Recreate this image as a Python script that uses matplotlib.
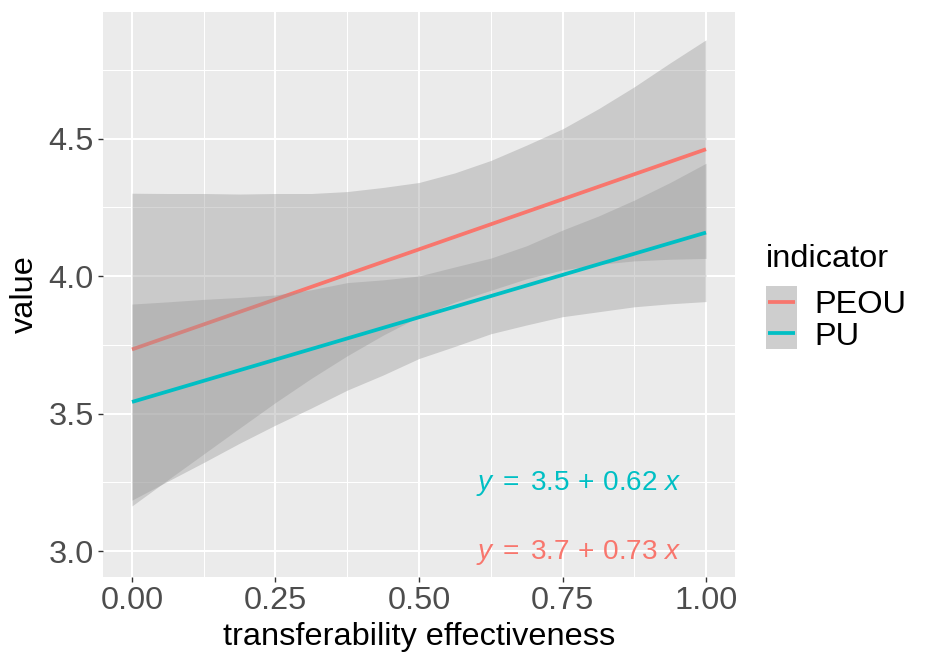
import matplotlib
matplotlib.use("Agg")
import matplotlib.pyplot as plt
from matplotlib.patches import Rectangle
from matplotlib.lines import Line2D

# ---------------- data ----------------
x_band = [0.0, 0.0625, 0.125, 0.1875, 0.25, 0.3125, 0.375, 0.4375, 0.5,
          0.5625, 0.625, 0.6875, 0.75, 0.8125, 0.875, 0.9375, 1.0]

peou_upper = [4.301, 4.300, 4.300, 4.298, 4.300, 4.300, 4.307, 4.322, 4.340,
              4.375, 4.420, 4.476, 4.535, 4.608, 4.688, 4.775, 4.859]
peou_lower = [3.164, 3.259, 3.353, 3.447, 3.540, 3.628, 3.710, 3.785, 3.852,
              3.905, 3.948, 3.990, 4.022, 4.042, 4.055, 4.061, 4.064]
pu_upper = [3.898, 3.906, 3.915, 3.922, 3.931, 3.950, 3.976, 3.986, 4.000,
            4.033, 4.065, 4.110, 4.167, 4.218, 4.276, 4.340, 4.410]
pu_lower = [3.185, 3.254, 3.322, 3.392, 3.458, 3.520, 3.585, 3.640, 3.700,
            3.744, 3.790, 3.822, 3.852, 3.870, 3.888, 3.899, 3.907]

x_line = [0.0, 1.0]
peou_line = [3.733, 4.461]
pu_line = [3.542, 4.158]

series = ["PEOU", "PU"]
colors = ["#F8766D", "#00BFC4"]
eq_labels = [r"$y\;=\;3.7\,+\,0.73\ x$",
             r"$y\;=\;3.5\,+\,0.62\ x$"]
eq_x = [0.6, 0.6]
eq_y = [2.970, 3.222]

x_ticks = [0.0, 0.25, 0.5, 0.75, 1.0]
x_ticklabels = ["0.00", "0.25", "0.50", "0.75", "1.00"]
y_ticks = [3.0, 3.5, 4.0, 4.5]
y_ticklabels = ["3.0", "3.5", "4.0", "4.5"]
x_minor = [0.125, 0.375, 0.625, 0.875]
y_minor = [3.25, 3.75, 4.25, 4.75]

# ---------------- style ----------------
FONT = "Liberation Sans"
FS = 23.4
FS_EQ = 20.2
plt.rcParams["font.family"] = [FONT, "DejaVu Sans"]
plt.rcParams["mathtext.fontset"] = "custom"
plt.rcParams["mathtext.rm"] = FONT
plt.rcParams["mathtext.it"] = FONT + ":italic"

W, H = 933, 658
fig = plt.figure(figsize=(W / 100, H / 100), dpi=100)
fig.patch.set_facecolor("white")

def fx(px):
    return px / W

def fy(py):
    return 1 - py / H

ax = fig.add_axes([fx(103), fy(577), fx(735) - fx(103), fy(12) - fy(577)])
ax.set_facecolor("#EBEBEB")
for s in ax.spines.values():
    s.set_visible(False)

ax.set_xlim(-0.0505, 1.0505)
ax.set_ylim(2.9055, 4.96)

# grid
ax.set_xticks(x_ticks)
ax.set_xticklabels(x_ticklabels)
ax.set_yticks(y_ticks)
ax.set_yticklabels(y_ticklabels)
ax.set_xticks(x_minor, minor=True)
ax.set_yticks(y_minor, minor=True)
ax.grid(which="major", color="white", linewidth=1.5)
ax.grid(which="minor", color="white", linewidth=0.75)
ax.set_axisbelow(True)
ax.tick_params(which="minor", length=0)
ax.tick_params(which="major", length=3.6, width=1.0, color="#333333",
               labelsize=FS, labelcolor="#4D4D4D", pad=3.0)

bands = [(peou_lower, peou_upper), (pu_lower, pu_upper)]
lines = [peou_line, pu_line]
for i in range(2):
    lo, hi = bands[i]
    ax.fill_between(x_band, lo, hi, color="#999999", alpha=0.4, linewidth=0, zorder=2 + 2 * i)
    ax.plot(x_line, lines[i], color=colors[i], linewidth=2.7, zorder=3 + 2 * i,
            solid_capstyle="butt")

for i in range(2):
    ax.text(eq_x[i], eq_y[i], eq_labels[i], color=colors[i], fontsize=FS_EQ,
            ha="left", va="baseline", zorder=10)

ax.set_xlabel("transferability effectiveness", fontsize=FS, color="black", labelpad=4)
ax.set_ylabel("value", fontsize=FS, color="black", labelpad=6)

# ---------------- legend (ggplot style) ----------------
fig.text(fx(766), fy(266.7), "indicator", fontsize=FS, ha="left", va="baseline")
key_top = 286
key_h = 31.5
for i, name in enumerate(series):
    top = key_top + i * key_h
    fig.add_artist(Rectangle((fx(766), fy(top + key_h)), fx(797) - fx(766),
                             fy(top) - fy(top + key_h), transform=fig.transFigure,
                             facecolor="#F2F2F2", edgecolor="none"))
    fig.add_artist(Rectangle((fx(766), fy(top + key_h)), fx(797) - fx(766),
                             fy(top) - fy(top + key_h), transform=fig.transFigure,
                             facecolor="#999999", alpha=0.4, edgecolor="none"))
    cy = top + key_h / 2
    fig.add_artist(Line2D([fx(768), fx(795)], [fy(cy), fy(cy)], transform=fig.transFigure,
                          color=colors[i], linewidth=2.7, solid_capstyle="butt"))
    fig.text(fx(814), fy(cy + 11.3), name, fontsize=FS, ha="left", va="baseline")

fig.savefig("out.png", dpi=100)
